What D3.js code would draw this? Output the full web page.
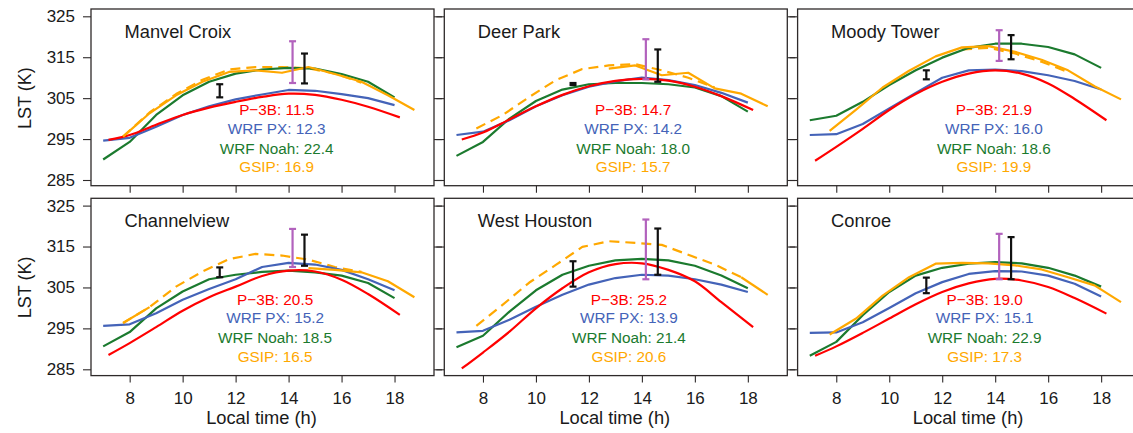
<!DOCTYPE html>
<html><head><meta charset="utf-8">
<script src="https://cdn.jsdelivr.net/npm/d3@7"></script>
<style>
html,body{margin:0;padding:0;background:#fff;}
svg{display:block;font-family:"Liberation Sans",Arial,Helvetica,sans-serif;}
</style></head>
<body>
<svg id="chart" width="1133" height="433"></svg>
<script>
// ---------------- data ----------------
const sites = ["Manvel Croix","Deer Park","Moody Tower","Channelview","West Houston","Conroe"];

const p3bHours = [7.2, 8, 9, 10, 11, 12, 13, 14, 15, 16, 17, 18.2];
const p3b = [
  [294.8, 296.0, 298.5, 300.9, 302.7, 304.1, 305.3, 306.1, 305.8, 304.6, 302.9, 300.3],
  [294.9, 296.6, 299.8, 303.0, 305.8, 307.9, 309.2, 309.7, 309.3, 307.8, 305.5, 302.1],
  [289.7, 293.1, 297.5, 302.1, 306.0, 309.0, 311.0, 311.8, 311.0, 308.6, 304.8, 299.6],
  [288.5, 291.4, 295.3, 299.3, 302.6, 305.2, 307.8, 309.1, 308.9, 306.9, 303.4, 298.3],
  [285.2, 289.1, 294.2, 299.9, 304.8, 308.7, 310.7, 310.9, 309.3, 306.5, 301.4, 295.3],
  [288.3, 290.6, 293.9, 297.4, 300.9, 303.9, 306.0, 307.1, 306.7, 305.1, 302.4, 298.6]
];

const wrfHours = [7, 8, 9, 10, 11, 12, 13, 14, 15, 16, 17, 18];
const wrfPX = [
  [294.6, 295.3, 298.0, 300.9, 303.0, 304.7, 305.9, 307.0, 306.8, 306.0, 305.0, 303.3],
  [296.0, 296.8, 299.6, 303.0, 305.7, 307.8, 309.1, 310.0, 309.4, 308.2, 306.3, 303.9],
  [296.0, 296.2, 298.7, 302.5, 306.3, 310.0, 311.8, 312.0, 311.6, 310.6, 309.2, 307.1],
  [295.6, 296.0, 298.7, 302.0, 304.6, 307.0, 310.0, 311.0, 310.6, 309.3, 307.0, 304.3],
  [294.0, 294.4, 297.1, 300.3, 303.2, 305.7, 307.3, 308.1, 307.9, 307.0, 305.7, 303.9],
  [293.9, 294.0, 296.5, 300.0, 303.6, 306.3, 308.3, 309.0, 308.9, 307.9, 305.9, 302.8]
];
const wrfNoah = [
  [290.0, 294.3, 300.9, 305.7, 309.0, 311.0, 312.0, 312.4, 312.2, 310.9, 309.0, 305.2],
  [290.9, 294.3, 300.0, 304.3, 307.1, 308.4, 308.7, 308.7, 308.4, 307.6, 305.5, 301.7],
  [299.6, 300.7, 304.1, 308.2, 311.8, 314.9, 317.3, 318.3, 318.3, 317.5, 315.7, 312.4],
  [290.6, 294.1, 299.9, 304.0, 307.0, 308.1, 308.8, 309.1, 308.7, 307.9, 306.1, 302.4],
  [290.4, 293.2, 299.1, 304.3, 308.1, 310.3, 311.6, 312.0, 311.6, 310.3, 307.9, 304.8],
  [288.3, 291.7, 298.2, 303.9, 307.9, 309.8, 310.8, 311.2, 310.9, 309.8, 307.9, 305.2]
];

const gsipHours = [7.75, 8.75, 9.75, 10.75, 11.75, 12.75, 13.75, 14.75, 15.75, 16.75, 17.75, 18.75];
// GSIP retrievals (solid) and gap-filled GSIP (dashed); null = no value
const gsipSolid = [
  [295.6, 301.3, 305.7, 309.0, 311.4, 311.8, 311.2, 312.6, 310.9, 309.0, 305.7, 302.1],
  [null, null, null, null, null, 312.2, 313.0, 310.6, 311.2, 307.4, 306.1, 303.0],
  [297.0, 302.2, 307.6, 311.7, 315.2, 317.4, 317.7, 316.3, 314.4, 311.8, 307.9, 304.7],
  [296.3, 300.2, null, null, null, null, null, 309.7, 309.3, 308.7, 306.5, 302.6],
  [null, null, null, null, null, null, null, null, null, null, 307.5, 303.2],
  [293.5, 297.4, 303.0, 307.5, 310.8, 311.0, 310.9, 310.4, 309.4, 307.5, 305.5, 301.4]
];
const gsipDashed = [
  [295.6, 301.5, 306.0, 309.5, 312.0, 312.6, 312.6, 312.3, 311.0, 308.8, null, null],
  [297.6, 300.9, 305.3, 309.4, 312.1, 313.0, 313.3, 311.8, 310.0, 307.6, null, null],
  [null, null, null, null, null, 316.9, 317.3, 315.9, 313.9, 311.4, null, null],
  [296.3, 300.2, 305.2, 308.9, 311.9, 313.2, 312.8, 311.8, 310.0, 308.8, null, null],
  [295.6, 300.8, 306.2, 310.5, 314.9, 316.3, 315.9, 315.4, 313.0, 310.6, 307.5, null],
  [null, null, null, null, null, null, null, null, null, null, null, null]
];

// observation ranges: [low, high] at each time
const obsHours = [11.4, 14.15, 14.6];
const obsKind = ["black", "purple", "black"];
const obsRanges = [
  [[305.2, 308.4], [308.7, 318.9], [308.6, 315.9]],
  [[308.2, 308.7], [309.6, 319.4], [309.0, 316.9]],
  [[309.6, 311.8], [314.1, 321.6], [314.5, 320.4]],
  [[307.5, 309.9], [310.0, 319.3], [310.3, 317.9]],
  [[305.2, 311.4], [307.0, 321.6], [308.1, 319.4]],
  [[303.6, 307.4], [307.0, 318.1], [307.0, 317.3]]
];

const statP3B  = ["11.5", "14.7", "21.9", "20.5", "25.2", "19.0"];
const statPX   = ["12.3", "14.2", "16.0", "15.2", "13.9", "15.1"];
const statNoah = ["22.4", "18.0", "18.6", "18.5", "21.4", "22.9"];
const statGSIP = ["16.9", "15.7", "19.9", "16.5", "20.6", "17.3"];

const xTicks = [8, 10, 12, 14, 16, 18];
const yTicks = [285, 295, 305, 315, 325];

// ---------------- layout / style ----------------
const statCenter = [13.55, 13.67, 13.95, 13.49, 13.51, 13.6];
const C = {red:"#ff0000", blue:"#4463b8", green:"#1b7a2e", orange:"#ffa800", purple:"#b262bd", black:"#111", frame:"#2e2a2a", text:"#1a1a1a"};

const svg = d3.select("#chart");
const W = 343;

sites.forEach((site, i) => {
  const col = i % 3, row = Math.floor(i / 3);
  const left = 91 + col * 353.3;
  const top = row === 0 ? 9 : 198.3;
  const H = row === 0 ? 176.7 : 177.3;
  const x = d3.scaleLinear().domain([6.54, 19.49]).range([left, left + W]);
  const y = d3.scaleLinear().domain([285, 325]).range([top + 171, top + 7.3]);

  const g = svg.append("g");

  const styleAxis = sel => {
    sel.select(".domain").remove();
    sel.selectAll(".tick line").attr("stroke", C.frame).attr("stroke-width", 1.1);
    sel.selectAll("text").attr("fill", C.text).style("font-size", "17px").style("font-family", '"Liberation Sans",Arial,sans-serif');
  };
  const yl = d3.axisLeft(y).tickValues(yTicks).tickSize(8).tickPadding(8);
  if (col !== 0) yl.tickFormat("");
  g.append("g").attr("transform", `translate(${left},0)`).call(yl).call(styleAxis);
  g.append("g").attr("transform", `translate(${left + W},0)`)
    .call(d3.axisRight(y).tickValues(yTicks).tickSize(8).tickFormat("")).call(styleAxis);
  const xb = d3.axisBottom(x).tickValues(xTicks).tickSize(7).tickPadding(9);
  if (row === 0) xb.tickFormat("");
  g.append("g").attr("transform", `translate(0,${top + H})`).call(xb).call(styleAxis);

  g.append("rect").attr("x", left).attr("y", top).attr("width", W).attr("height", H)
    .attr("fill", "none").attr("stroke", C.frame).attr("stroke-width", 1.3);

  const lineLin = d3.line().defined(d => d[1] != null).x(d => x(d[0])).y(d => y(d[1]));
  const lineSmooth = d3.line().x(d => x(d[0])).y(d => y(d[1])).curve(d3.curveCatmullRom.alpha(0.5));

  const draw = (pts, color, gen, dash) => {
    g.append("path").datum(pts).attr("d", gen).attr("fill", "none")
      .attr("stroke", color).attr("stroke-width", 2.2).attr("stroke-linejoin", "round")
      .attr("stroke-dasharray", dash || null);
  };

  draw(gsipHours.map((h, k) => [h, gsipDashed[i][k]]), C.orange, lineLin, "10,6");
  draw(wrfHours.map((h, k) => [h, wrfNoah[i][k]]), C.green, lineLin);
  draw(wrfHours.map((h, k) => [h, wrfPX[i][k]]), C.blue, lineLin);
  draw(p3bHours.map((h, k) => [h, p3b[i][k]]), C.red, lineSmooth);
  draw(gsipHours.map((h, k) => [h, gsipSolid[i][k]]), C.orange, lineLin);

  obsHours.forEach((h, k) => {
    const [lo, hi] = obsRanges[i][k];
    const color = obsKind[k] === "purple" ? C.purple : C.black;
    const bx = x(h);
    g.append("line").attr("x1", bx).attr("x2", bx).attr("y1", y(lo)).attr("y2", y(hi))
      .attr("stroke", color).attr("stroke-width", 2.2);
    [lo, hi].forEach(v => {
      g.append("line").attr("x1", bx - 3.5).attr("x2", bx + 3.5).attr("y1", y(v)).attr("y2", y(v))
        .attr("stroke", color).attr("stroke-width", 2.2);
    });
  });

  g.append("text").attr("x", left + 33.5).attr("y", top + 28.7)
    .attr("fill", C.text).style("font-size", "18.3px").text(site);

  const sx = x(statCenter[i]);
  const stats = [
    ["P\u22123B: " + statP3B[i], C.red],
    ["WRF PX: " + statPX[i], C.blue],
    ["WRF Noah: " + statNoah[i], C.green],
    ["GSIP: " + statGSIP[i], C.orange]
  ];
  const offs = [106.3, 125, 144.5, 163.2];
  stats.forEach((s, k) => {
    g.append("text").attr("x", sx).attr("y", top + offs[k]).attr("text-anchor", "middle")
      .attr("fill", s[1]).style("font-size", "15.3px").text(s[0]);
  });

  if (row === 1) {
    g.append("text").attr("x", left + W / 2 - 1).attr("y", 424.3).attr("text-anchor", "middle")
      .attr("fill", C.text).style("font-size", "18.3px").text("Local time (h)");
  }
  if (col === 0) {
    const cy = (y(285) + y(325)) / 2;
    g.append("text").attr("transform", `translate(31,${cy}) rotate(-90)`).attr("text-anchor", "middle")
      .attr("fill", C.text).style("font-size", "18px").text("LST (K)");
  }
});
</script>
</body></html>
